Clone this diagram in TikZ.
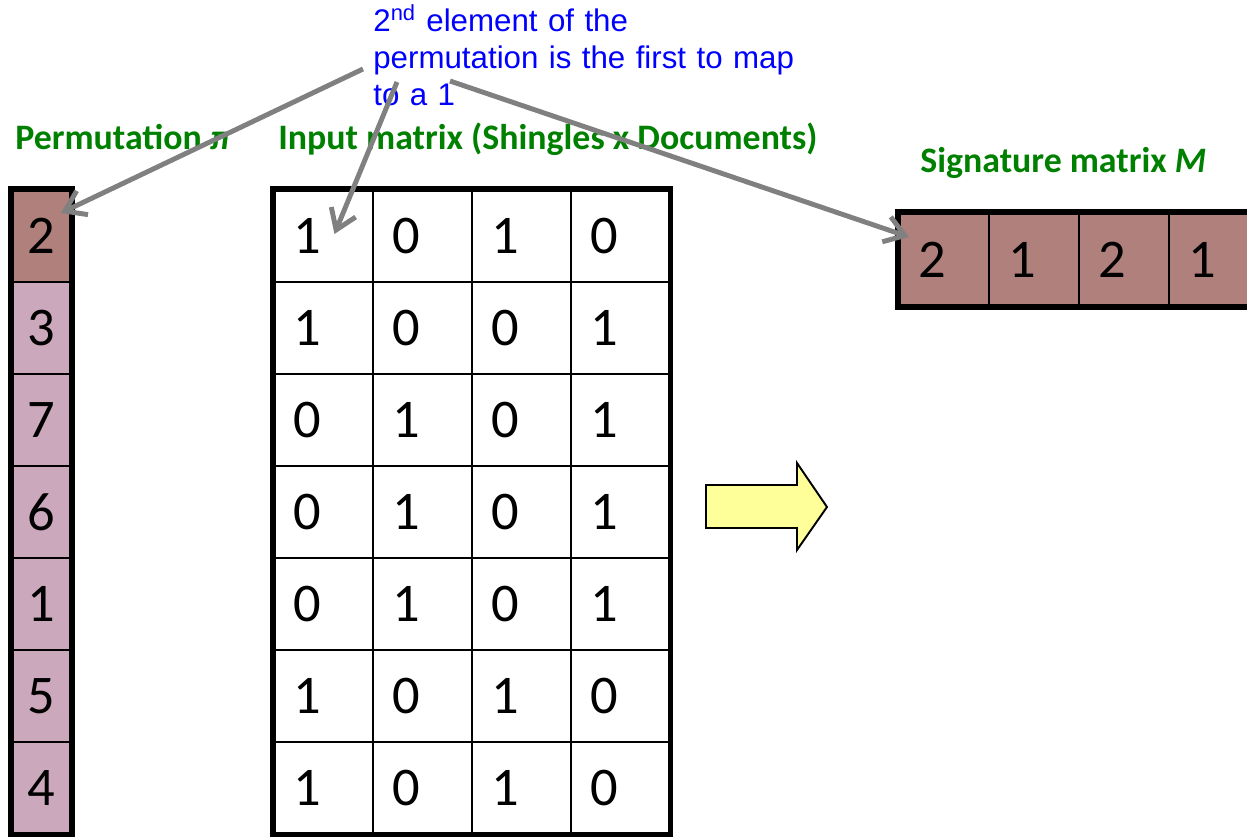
\documentclass[tikz,border=0pt]{standalone}
\usepackage{fontspec}
\setmainfont{Carlito}
\newfontfamily\notefont{Liberation Sans}
\usetikzlibrary{arrows.meta, matrix, calc}

\definecolor{permrose}{RGB}{176,128,124}
\definecolor{permmauve}{RGB}{203,168,187}
\definecolor{headgreen}{RGB}{0,128,0}
\definecolor{noteblue}{RGB}{0,0,255}
\definecolor{pointergray}{RGB}{128,128,128}
\definecolor{stepyellow}{RGB}{255,255,153}

\tikzset{
  cell/.style={
    rectangle, draw=black, line width=1.1pt, outer sep=0pt,
    inner sep=0pt, minimum height=1.84cm,
    font=\fontsize{31}{31}\selectfont
  },
  permcell/.style={cell, fill=permmauve, minimum width=1.18cm},
  bitcell/.style={
    cell, fill=white, inner xsep=0.4cm, text width=1.18cm,
    align=left, minimum width=1.98cm
  },
  sigcell/.style={
    cell, fill=permrose, inner xsep=0.4cm, text width=1.0cm,
    align=left, minimum width=1.8cm, minimum height=1.86cm
  },
  grid/.style={
    matrix of nodes, anchor=north west, inner sep=0pt, outer sep=0pt,
    row sep=-1.1pt, column sep=-1.1pt
  },
  gridframe/.style={draw=black, line width=3pt},
  heading/.style={
    inner sep=0pt, anchor=base west, text=headgreen,
    font=\fontsize{20.4}{24}\selectfont\bfseries
  },
  remark/.style={
    inner sep=0pt, anchor=base west, text=noteblue, text width=8.8cm,
    align=left, font=\notefont\fontsize{17.8}{21}\selectfont
  },
  pointer/.style={
    draw=pointergray, line width=2.8pt, line cap=butt,
    -{Straight Barb[length=11pt, width=15pt]}
  },
  bigarrow/.style={draw=black, line width=1.1pt, fill=stepyellow}
}

\begin{document}
\begin{tikzpicture}[x=0.02cm, y=-0.02cm]
  \clip (0,0) rectangle (1247,837);

  \node[heading] (permlabel) at (15,150) {Permutation \textit{π}};
  \node[heading] (inlabel) at (278,150) {Input matrix (Shingles x Documents)};
  \node[heading] (siglabel) at (920,173) {Signature matrix \textit{M}};

  \matrix (perm) [grid, nodes={permcell}] at (11,189) {
    |[fill=permrose]| 2 \\ 3 \\ 7 \\ 6 \\ 1 \\ 5 \\ 4 \\
  };
  \draw[gridframe] (perm.north west) rectangle (perm.south east);

  \matrix (inmat) [grid, nodes={bitcell}] at (273,189) {
    1 & 0 & 1 & 0 \\
    1 & 0 & 0 & 1 \\
    0 & 1 & 0 & 1 \\
    0 & 1 & 0 & 1 \\
    0 & 1 & 0 & 1 \\
    1 & 0 & 1 & 0 \\
    1 & 0 & 1 & 0 \\
  };
  \draw[gridframe] (inmat.north west) rectangle (inmat.south east);

  \matrix (sig) [grid, nodes={sigcell}] at (898,212) {
    2 & 1 & 2 & 1 \\
  };
  \draw[gridframe] (sig.north west) rectangle (sig.south east);

  % block arrow between the input and the signature
  \draw[bigarrow] (706,485) -- (797,485) -- (797,463) -- (827,507)
    -- (797,550) -- (797,528) -- (706,528) -- cycle;

  \node[remark] (note) at (373,32)
    {2\textsuperscript{nd} element of the\\ permutation is the first to map\\ to a 1};

  \draw[pointer] ($(note.base west)+(-10,37)$) -- ($(perm-1-1.north east)+(-10,23)$);
  \draw[pointer] ($(note.base west)+(24,50)$) -- ($(inmat-1-1.center)+(11,-2)$);
  \draw[pointer] ($(note.base west)+(77,49)$) -- ($(sig-1-1.north west)+(10,24)$);
\end{tikzpicture}
\end{document}
